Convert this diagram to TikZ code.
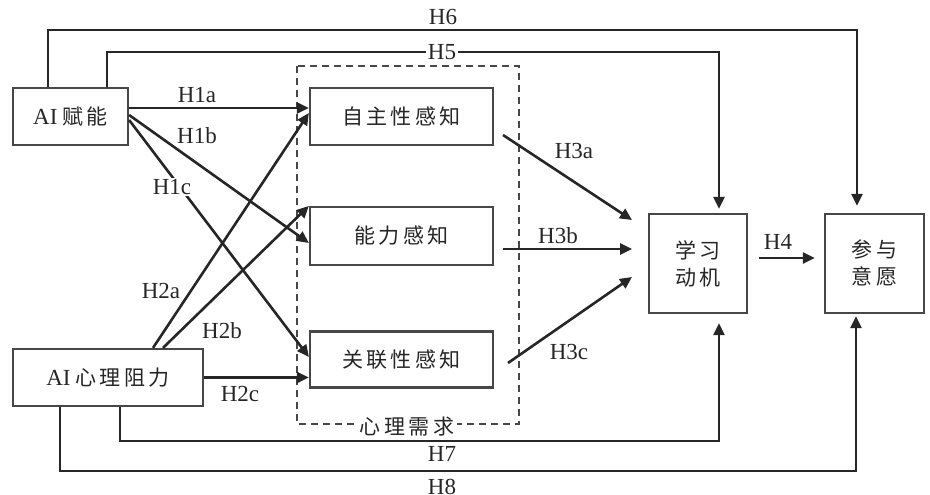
\documentclass[tikz,border=0pt]{standalone}
\usepackage{fontspec}
\setmainfont{Liberation Serif}
\newfontfamily\zhfont{Noto Sans CJK SC}[LetterSpace=16]
\usetikzlibrary{arrows.meta}
\usetikzlibrary{calc}
\newcommand{\zh}[1]{{\zhfont\fontsize{21pt}{27pt}\selectfont #1}}
\definecolor{ln}{HTML}{262626}
\definecolor{bd}{HTML}{474747}
\tikzset{%
  arr/.style = {-{Triangle[length=12pt,width=11pt]},line width=2.6pt,draw=ln},
  box/.style = {rectangle,draw=bd,line width=2.2pt,fill=white,inner sep=0pt,
        font=\fontsize{23pt}{27pt}\selectfont,text=black!85,align=center},
  lbl/.style = {inner sep=1.5pt,font=\fontsize{23pt}{26pt}\selectfont,text=black!85},
  wl/.style = {lbl,fill=white}
}
\begin{document}
\begin{tikzpicture}[x=1pt,y=-1pt]
        \useasboundingbox (0,0) rectangle (930,495);
        \draw[bd,line width=2pt,dash pattern=on 7pt off 5pt] (297,66) rectangle (519,424);

        \node[box,minimum width=115pt,minimum height=57pt] (ai) at (70.5,116.5) {AI\hspace{5pt}\zh{赋能}};
        \node[box,minimum width=190pt,minimum height=57pt] (res) at (108,377.5) {AI\hspace{5pt}\zh{心理阻力}};
        \node[box,minimum width=183pt,minimum height=57pt] (auto) at (401.5,116.5) {\zh{自主性感知}};
        \node[box,minimum width=183pt,minimum height=58pt] (comp) at (401.5,236) {\zh{能力感知}};
        \node[box,minimum width=183pt,minimum height=56pt] (rel) at (401.5,359.5) {\zh{关联性感知}};
        \node[box,minimum width=98pt,minimum height=99pt] (mot) at (698,263.5) {\zh{学习}\\\zh{动机}};
        \node[box,minimum width=99pt,minimum height=99pt] (will) at (874.5,263.5) {\zh{参与}\\\zh{意愿}};

        \coordinate (h3a-s) at (503,135);
        \coordinate (h3a-e) at (632,220);
        \coordinate (h3b-s) at (503,249);
        \coordinate (h3b-e) at (632,249);
        \coordinate (h3c-s) at (508,363);
        \coordinate (h3c-e) at (632,277);

        \draw[arr] ([yshift=8.5]ai.east) -- ([yshift=8.5]auto.west);
        \draw[arr] ([yshift=1.5]ai.east) -- ([yshift=-7]comp.west);
        \draw[arr] ([yshift=-3.5]ai.east) -- ([yshift=2.5]rel.west);
        \draw[arr] ([xshift=45]res.north) -- ([yshift=3.5]auto.west);
        \draw[arr] ([xshift=55]res.north) -- (comp.north west);
        \draw[arr] (res.east) -- (res.east -| rel.west);
        \draw[arr] (h3a-s) -- (h3a-e);
        \draw[arr] (h3b-s) -- (h3b-e);
        \draw[arr] (h3c-s) -- (h3c-e);
        \draw[arr,shorten <=11pt,shorten >=9pt] ([yshift=5.5]mot.east) -- ([yshift=5.5]will.west);
        \draw[arr,shorten >=4pt] ([xshift=36.5]ai.north) -- ++(0,-35) -| ([xshift=21]mot.north);
        \draw[arr,shorten >=7pt] ([xshift=-22.5]ai.north) -- ++(0,-57) -| ([xshift=-17.5]will.north);
        \draw[arr,shorten >=9pt] ([xshift=12]res.south) -- ++(0,34) -| ([xshift=21]mot.south);
        \draw[arr,shorten >=2pt] ([xshift=-48]res.south) -- ++(0,64) -| ([xshift=-18.5]will.south);

        \node[lbl] (l6) at (443,17) {H6};
        \node[wl] (l5) at (442,52) {H5};
        \node[lbl] (l1a) at (197,95) {H1a};
        \node[lbl] (l1b) at (197,136) {H1b};
        \node[wl] (l1c) at (172,187) {H1c};
        \node[lbl] (l2a) at (161,291) {H2a};
        \node[lbl] (l2b) at (222,331) {H2b};
        \node[lbl] (l2c) at (240,394) {H2c};
        \node[lbl] (l3a) at (574,151) {H3a};
        \node[lbl] (l3b) at (558,236) {H3b};
        \node[lbl] (l3c) at (569,352) {H3c};
        \node[lbl] (l4) at (778,242) {H4};
        \node[lbl] (l7) at (442,454) {H7};
        \node[lbl] (l8) at (442,487) {H8};
        \node[wl,inner xsep=3pt] (need) at (407,427) {\zh{心理需求}};
    \end{tikzpicture}
\end{document}
